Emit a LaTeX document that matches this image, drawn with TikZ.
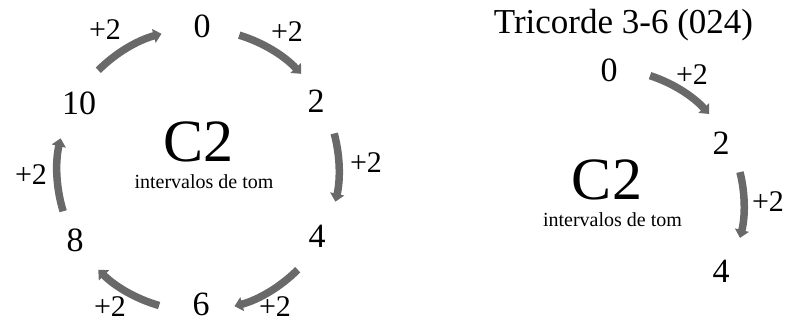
\documentclass[tikz,border=0pt]{standalone}
\usepackage{fontspec}
\setmainfont{Liberation Serif}
\usetikzlibrary{arrows.meta}
\definecolor{arrgray}{RGB}{105,105,105}
\begin{document}
\begin{tikzpicture}[x=1pt,y=1pt,
  num/.style={inner sep=0pt,anchor=base,font=\fontsize{34}{34}\selectfont},
  lab/.style={inner sep=0pt,anchor=base,font=\fontsize{30}{30}\selectfont},
  big/.style={inner sep=0pt,anchor=base,font=\fontsize{60}{60}\selectfont},
  sub/.style={inner sep=0pt,anchor=base,font=\fontsize{20}{20}\selectfont},
  ttl/.style={inner sep=0pt,anchor=base,font=\fontsize{35}{35}\selectfont},
  arr/.style={draw=arrgray,line width=7.5pt,-{Triangle[width=14pt,length=8pt]}}]
\useasboundingbox (0,0) rectangle (787,321);
% left cycle
\coordinate (cL) at (198,151);
\node[num] (L0) at (202,283) {0};
\node[num] (L2) at (316,208) {2};
\node[num] (L4) at (317,73) {4};
\node[num] (L6) at (201,5) {6};
\node[num] (L8) at (75,69) {8};
\node[num] (L10) at (79,206) {10};
\node[big] (LC) at (198.5,159) {C2};
\node[sub] (Lsub) at (204,132) {intervalos de tom};
\node[lab] (La) at (287,279) {+2};
\node[lab] (Lb) at (366,148) {+2};
\node[lab] (Lc) at (275,4) {+2};
\node[lab] (Ld) at (110,4) {+2};
\node[lab] (Le) at (31,136) {+2};
\node[lab] (Lf) at (105,281) {+2};
\draw[arr] ([shift={(135:141)}]cL) arc[start angle=135,end angle=105,radius=141];
\draw[arr] ([shift={(73:141)}]cL) arc[start angle=73,end angle=43,radius=141];
\draw[arr] ([shift={(15:141)}]cL) arc[start angle=15,end angle=-13,radius=141];
\draw[arr] ([shift={(-45:141)}]cL) arc[start angle=-45,end angle=-75,radius=141];
\draw[arr] ([shift={(-106:141)}]cL) arc[start angle=-106,end angle=-135,radius=141];
\draw[arr] ([shift={(197:141)}]cL) arc[start angle=197,end angle=167,radius=141];
% right trichord
\coordinate (cR) at (608,116);
\node[ttl] (T) at (623.5,287) {Tricorde 3-6 (024)};
\node[num] (R0) at (609,239) {0};
\node[num] (R2) at (721,166) {2};
\node[num] (R4) at (721,38) {4};
\node[big] (RC) at (607,121) {C2};
\node[sub] (Rsub) at (612.5,94) {intervalos de tom};
\node[lab] (Ra) at (692,236) {+2};
\node[lab] (Rb) at (768,109) {+2};
\draw[arr] ([shift={(72:136)}]cR) arc[start angle=72,end angle=42,radius=136];
\draw[arr] ([shift={(14:136)}]cR) arc[start angle=14,end angle=-14,radius=136];
\end{tikzpicture}
\end{document}
